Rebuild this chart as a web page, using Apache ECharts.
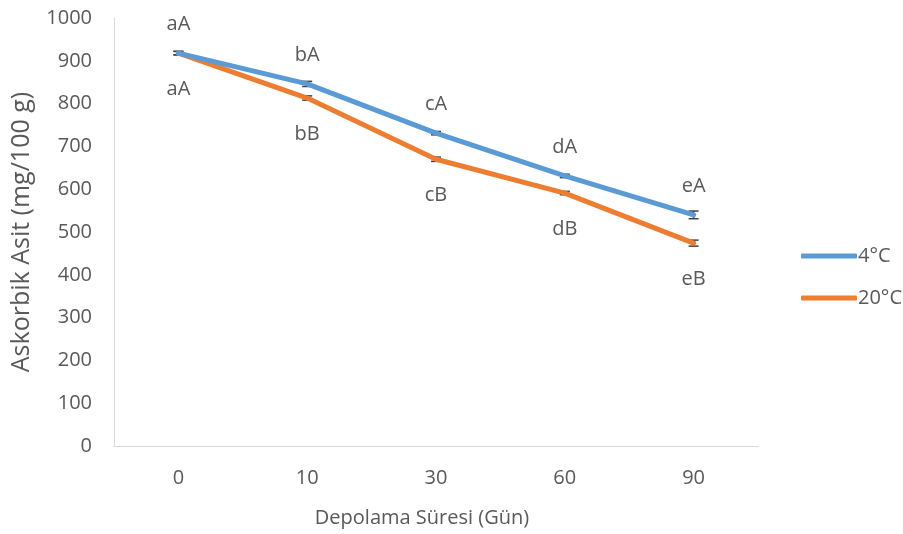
<!DOCTYPE html>
<html><head><meta charset="utf-8">
<script src="https://cdn.jsdelivr.net/npm/echarts@6/dist/echarts.min.js"></script>
<style>html,body{margin:0;padding:0;background:#fff}#c{width:903px;height:534px}</style>
</head><body><div id="c"></div>
<script>
const categories = ['0', '10', '30', '60', '90'];
const seriesNames = ['4°C', '20°C'];
const values4 = [918, 846, 731, 631, 540];
const values20 = [918, 813, 670, 591, 474];
const err4 = [4, 6, 4, 4, 9];
const err20 = [4, 5, 5, 4, 7];
const letters4 = ['aA', 'bA', 'cA', 'dA', 'eA'];
const letters20 = ['aA', 'bB', 'cB', 'dB', 'eB'];
const yTicks = { min: 0, max: 1000, interval: 100 };

const font = 'Open Sans, Liberation Sans, sans-serif';
const txt = '#595959';
const chart = echarts.init(document.getElementById('c'));

function errSeries(vals, errs) {
  return {
    type: 'custom',
    data: vals.map((v, i) => [i, v, errs[i]]),
    z: 1,
    renderItem: function (params, api) {
      const x = api.value(0), v = api.value(1), e = api.value(2);
      const hi = api.coord([x, v + e]);
      const lo = api.coord([x, v - e]);
      const w = 5;
      const st = { stroke: '#404040', lineWidth: 1.5 };
      return {
        type: 'group',
        children: [
          { type: 'line', shape: { x1: hi[0], y1: hi[1], x2: lo[0], y2: lo[1] }, style: st },
          { type: 'line', shape: { x1: hi[0] - w, y1: hi[1], x2: hi[0] + w, y2: hi[1] }, style: st },
          { type: 'line', shape: { x1: lo[0] - w, y1: lo[1], x2: lo[0] + w, y2: lo[1] }, style: st }
        ]
      };
    },
    silent: true,
    tooltip: { show: false }
  };
}

chart.setOption({
  animation: false,
  textStyle: { fontFamily: font },
  grid: { left: 114, right: 145, top: 18, bottom: 88 },
  legend: {
    orient: 'vertical',
    left: 796,
    top: 241,
    itemGap: 22,
    itemWidth: 56,
    itemHeight: 5,
    icon: 'roundRect',
    data: seriesNames,
    textStyle: { color: txt, fontSize: 20, fontFamily: font, padding: [0, 0, 0, -4] }
  },
  xAxis: {
    type: 'category',
    data: categories,
    boundaryGap: true,
    axisLine: { lineStyle: { color: '#D9D9D9', width: 1 } },
    axisTick: { show: false },
    axisLabel: { color: txt, fontSize: 20, margin: 22 },
    name: 'Depolama Süresi (Gün)',
    nameLocation: 'middle',
    nameGap: 62,
    nameTextStyle: { color: txt, fontSize: 20, fontFamily: font, padding: [0, 28, 0, 0] }
  },
  yAxis: {
    type: 'value',
    min: yTicks.min, max: yTicks.max, interval: yTicks.interval,
    axisLine: { show: true, lineStyle: { color: '#D9D9D9', width: 1 } },
    axisTick: { show: false },
    splitLine: { show: false },
    axisLabel: { color: txt, fontSize: 20, margin: 22, formatter: v => String(v) },
    name: 'Askorbik Asit (mg/100 g)',
    nameLocation: 'middle',
    nameGap: 80,
    nameTextStyle: { color: txt, fontSize: 25, fontFamily: font }
  },
  series: [
    {
      name: seriesNames[0], type: 'line', data: values4,
      color: '#5B9BD5',
      lineStyle: { width: 5, color: '#5B9BD5', cap: 'round' },
      showSymbol: true, symbol: 'circle', symbolSize: 1,
      itemStyle: { color: '#5B9BD5' },
      label: { show: true, position: 'top', distance: 18, color: txt, fontSize: 20,
        formatter: p => letters4[p.dataIndex] },
      z: 3
    },
    {
      name: seriesNames[1], type: 'line', data: values20,
      color: '#ED7D31',
      lineStyle: { width: 5, color: '#ED7D31', cap: 'round' },
      showSymbol: true, symbol: 'circle', symbolSize: 1,
      itemStyle: { color: '#ED7D31' },
      label: { show: true, position: 'bottom', distance: 26, color: txt, fontSize: 20,
        formatter: p => letters20[p.dataIndex] },
      z: 2
    },
    errSeries(values4, err4),
    errSeries(values20, err20)
  ]
});
</script></body></html>
